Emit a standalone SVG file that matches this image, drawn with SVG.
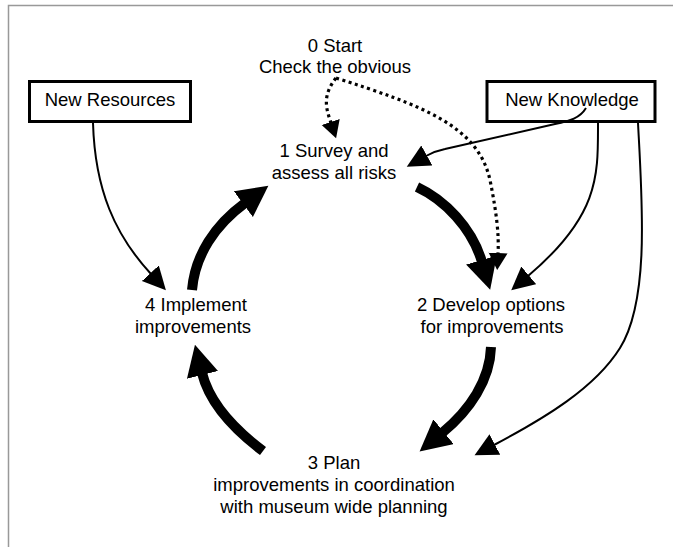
<svg xmlns="http://www.w3.org/2000/svg" width="673" height="547" viewBox="0 0 673 547">
<style>
text{font-family:"Liberation Sans",Arial,sans-serif;font-size:18.5px;fill:#000;text-anchor:middle}
.box{fill:#fff;stroke:#000;stroke-width:3}
.thin{fill:none;stroke:#000;stroke-width:2}
.thick{fill:none;stroke:#000;stroke-width:10}
.dot{fill:none;stroke:#000;stroke-width:3.2;stroke-dasharray:3 3.5}
</style>
<defs>
<marker id="ah" markerUnits="userSpaceOnUse" markerWidth="24" markerHeight="24" refX="1" refY="11.5" orient="auto"><path d="M0,0 L23,11.5 L0,23 z" fill="#000"/></marker>
<marker id="ahd" markerUnits="userSpaceOnUse" markerWidth="20" markerHeight="20" refX="1" refY="9.5" orient="auto"><path d="M0,0 L17,9.5 L0,19 z" fill="#000"/></marker>
<marker id="ahb" markerUnits="userSpaceOnUse" markerWidth="34" markerHeight="34" refX="2" refY="16" orient="auto"><path d="M0,0 L31,16 L0,32 z" fill="#000"/></marker>
</defs>
<rect width="673" height="547" fill="#fff"/>
<path d="M8.5 547 V5.5 H673" fill="none" stroke="#999" stroke-width="1.5"/>
<g id="start"><text x="335" y="52">0 Start</text><text x="335" y="73">Check the obvious</text></g>
<g id="newResources"><rect class="box" x="29.5" y="81.5" width="161" height="40"/><text x="110" y="106">New Resources</text></g>
<g id="newKnowledge"><rect class="box" x="487" y="81.5" width="168" height="40"/><text x="572" y="106">New Knowledge</text></g>
<g id="survey"><text x="334" y="157">1 Survey and</text><text x="334" y="179">assess all risks</text></g>
<g id="develop"><text x="491" y="311">2 Develop options</text><text x="492" y="333">for improvements</text></g>
<g id="plan"><text x="334" y="469">3 Plan</text><text x="334" y="491">improvements in coordination</text><text x="334" y="513">with museum wide planning</text></g>
<g id="implement"><text x="196" y="311">4 Implement</text><text x="193" y="333">improvements</text></g>
<g id="connectors">
<path class="thin" d="M93 123 C95 190 115 235 151 274" marker-end="url(#ah)"/>
<path class="thin" d="M586 108 C580 118 570 121 555 124 L445 149 Q435 151 426 156" marker-end="url(#ah)"/>
<path class="thin" d="M598 123 C598 175 600 215 528 276" marker-end="url(#ah)"/>
<path class="thin" d="M638 123 C642 200 650 300 620 348 C595 388 545 418 494 445" marker-end="url(#ah)"/>
<path class="dot" d="M336 78 C322 96 326 108 331 123" marker-end="url(#ahd)"/>
<path class="dot" d="M336 78 C420 105 478 125 490 180 C497 215 499 235 498 254" marker-end="url(#ahd)"/>
<path class="thick" d="M192 290 C195 255 215 225 245 203" marker-end="url(#ahb)"/>
<path class="thick" d="M417 187 C445 200 472 228 482 262" marker-end="url(#ahb)"/>
<path class="thick" d="M491 347 C490 380 470 410 442 433" marker-end="url(#ahb)"/>
<path class="thick" d="M263 451 C235 430 210 405 202 373" marker-end="url(#ahb)"/>
</g>
</svg>
